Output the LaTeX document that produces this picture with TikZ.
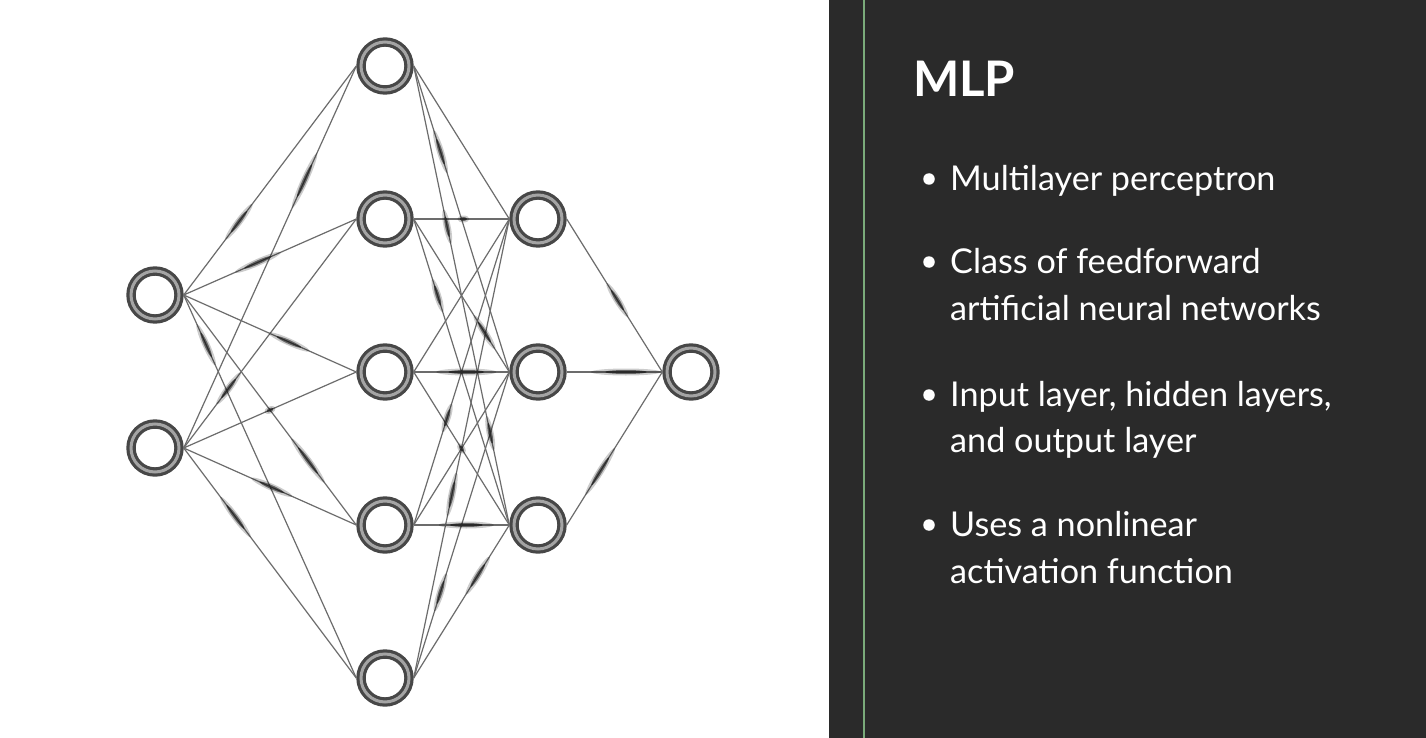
\documentclass[tikz,border=0pt]{standalone}
\usepackage{fontspec}
\setmainfont{Lato}
\usetikzlibrary{shapes.geometric}

\definecolor{panel}{HTML}{2A2A2A}
\definecolor{rulegreen}{HTML}{7AAA7A}
\definecolor{ringdark}{HTML}{474747}
\definecolor{ringgray}{HTML}{A4A4A4}
\definecolor{wire}{HTML}{6C6C6C}

\tikzset{
  neuron/.style={circle, minimum size=48pt, inner sep=0pt, fill=white,
    draw=ringdark, line width=3.2pt, double=ringgray, double distance=3pt,
    outer sep=4.7pt},
  wire/.style={draw=wire, line width=1.2pt},
  glowouter/.style={ellipse, inner sep=0pt, minimum height=7pt, fill=black, opacity=0.2},
  glowinner/.style={ellipse, inner sep=0pt, minimum height=4pt, fill=black, opacity=0.5},
  headline/.style={anchor=base west, inner sep=0pt, text=white,
    font=\fontsize{49}{56}\selectfont\bfseries},
  item/.style={anchor=base west, inner sep=0pt, text=white,
    font=\fontsize{34.2}{42}\selectfont},
  dot/.style={circle, fill=white, minimum size=11.5pt, inner sep=0pt},
}

% a blurred signal travelling along a connection
\newcommand\glint[4]{%
  \path (#1.east) -- (#2.west)
    node[pos=#3, sloped, glowouter, minimum width=#4pt] {}
    node[pos=#3, sloped, glowinner, minimum width=0.6*#4pt] {};}

\begin{document}
\begin{tikzpicture}[x=1pt, y=-1pt]
\useasboundingbox (0,0) rectangle (1426,738);
\fill[white] (0,0) rectangle (829,738);
\fill[panel] (829,0) rectangle (1426,738);
\draw[rulegreen, line width=2pt] (864,0) -- (864,738);

% neurons
\foreach \n/\x/\y in {i1/155/295, i2/155/448,
    h1/385/66, h2/385/219, h3/385/372, h4/385/525, h5/385/678,
    g1/538/219, g2/538/372, g3/538/525, o/691/372}
  \node[neuron] (\n) at (\x,\y) {};

% fully connected layers
\foreach \a in {i1,i2}
  \foreach \b in {h1,h2,h3,h4,h5}
    \draw[wire] (\a.east) -- (\b.west);
\foreach \a in {h1,h2,h3,h4,h5}
  \foreach \b in {g1,g2,g3}
    \draw[wire] (\a.east) -- (\b.west);
\foreach \a in {g1,g2,g3}
  \draw[wire] (\a.east) -- (o.west);

% signals in flight
\glint{i1}{h1}{0.32}{45}
\glint{i2}{h1}{0.70}{60}
\glint{i1}{h2}{0.43}{50}
\glint{i1}{h3}{0.61}{45}
\glint{i1}{h5}{0.13}{45}
\glint{i2}{h2}{0.26}{40}
\glint{i2}{h3}{0.50}{12}
\glint{i1}{h4}{0.72}{55}
\glint{i2}{h4}{0.51}{45}
\glint{i2}{h5}{0.30}{50}

\glint{h1}{g2}{0.28}{45}
\glint{h1}{g3}{0.35}{35}
\glint{h2}{g1}{0.52}{12}
\glint{h2}{g3}{0.25}{35}
\glint{h2}{g2}{0.74}{40}
\glint{h3}{g2}{0.55}{60}
\glint{h4}{g1}{0.35}{30}
\glint{h3}{g3}{0.50}{12}
\glint{h1}{g3}{0.80}{35}
\glint{h5}{g1}{0.40}{45}
\glint{h4}{g3}{0.55}{55}
\glint{h5}{g2}{0.28}{40}
\glint{h5}{g3}{0.67}{45}

\glint{g1}{o}{0.53}{40}
\glint{g2}{o}{0.62}{70}
\glint{g3}{o}{0.35}{55}

% slide text
\node[headline] (ttl) at (913,97) {MLP};

\node[dot] (b1) at (929,179) {};
\node[item] (l1) at (950,190) {Multilayer perceptron};

\node[dot] (b2) at (929,262) {};
\node[item] (l2) at (950,273) {Class of feedforward};
\node[item] (l3) at (950,320) {artificial neural networks};

\node[dot] (b3) at (929,395) {};
\node[item] (l4) at (950,406) {Input layer, hidden layers,};
\node[item] (l5) at (950,452) {and output layer};

\node[dot] (b4) at (929,525) {};
\node[item] (l6) at (950,536) {Uses a nonlinear};
\node[item] (l7) at (950,583) {activation function};
\end{tikzpicture}
\end{document}
